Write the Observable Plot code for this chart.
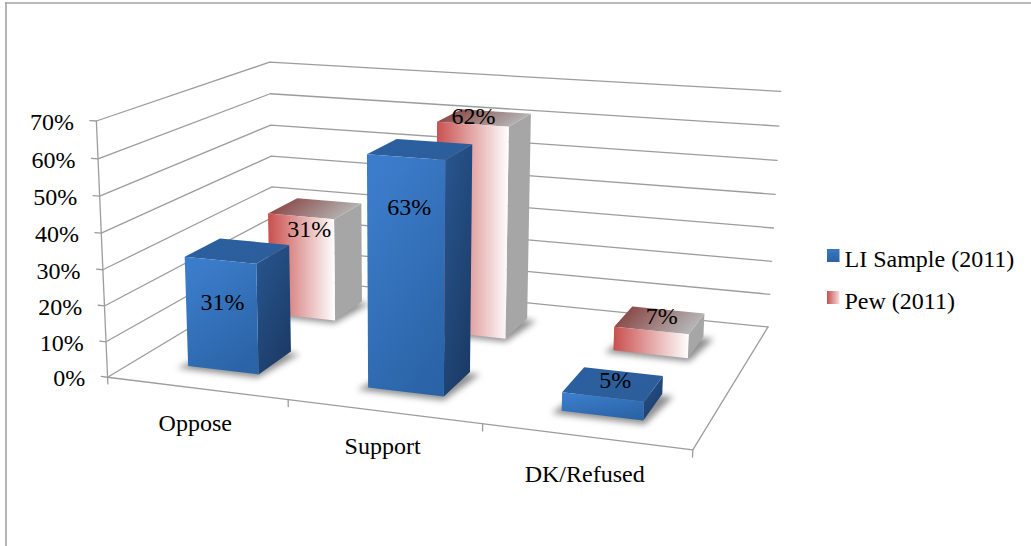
<!DOCTYPE html>
<html>
<head>
<meta charset="utf-8">
<style>html,body{margin:0;padding:0;background:#fff}svg{display:block}</style>
<script src="https://cdn.jsdelivr.net/npm/d3@7"></script>
<script src="https://cdn.jsdelivr.net/npm/@observablehq/plot@0.6"></script>
</head>
<body>
<script>
// Survey results, percent of respondents
const categories = ["Oppose", "Support", "DK/Refused"];
const liSample = [31, 63, 5];
const pew = [31, 62, 7];
const valueTicks = [0, 10, 20, 30, 40, 50, 60, 70];
const seriesNames = ["LI Sample (2011)", "Pew (2011)"];

const width = 1031, height = 546, maxValue = 70;
const font = "Liberation Serif", fontSize = 24, gridColor = "#9c9c9c";

// Camera calibration for the chart box: [across, depth, up] -> screen point
const calibration = [
  [0, 0, 0, 108, 376], [1 / 3, 0, 0, 288, 400], [2 / 3, 0, 0, 482, 424],
  [1, 0, 0, 692, 449], [1, 1, 0, 768, 326], [0, 1, 0, 272, 277],
  [0, 0, 1, 95, 120], [0, 1, 1, 270, 62], [1, 1, 1, 780, 91]
];

// Least-squares fit of a 3x4 perspective matrix (last entry fixed to 1)
function fitCamera(pts) {
  const A = Array.from({length: 11}, () => new Array(12).fill(0));
  const addRow = (r, b) => {
    for (let i = 0; i < 11; i++) {
      for (let j = 0; j < 11; j++) A[i][j] += r[i] * r[j];
      A[i][11] += r[i] * b;
    }
  };
  for (const [u, v, w, sx, sy] of pts) {
    addRow([u, v, w, 1, 0, 0, 0, 0, -sx * u, -sx * v, -sx * w], sx);
    addRow([0, 0, 0, 0, u, v, w, 1, -sy * u, -sy * v, -sy * w], sy);
  }
  for (let c = 0; c < 11; c++) {
    let p = c;
    for (let r = c + 1; r < 11; r++) if (Math.abs(A[r][c]) > Math.abs(A[p][c])) p = r;
    [A[c], A[p]] = [A[p], A[c]];
    for (let r = 0; r < 11; r++) {
      if (r === c) continue;
      const f = A[r][c] / A[c][c];
      for (let k = c; k < 12; k++) A[r][k] -= f * A[c][k];
    }
  }
  return A.map((row, i) => row[11] / row[i]);
}
const m = fitCamera(calibration);
function project(u, v, w) {
  const d = m[8] * u + m[9] * v + m[10] * w + 1;
  return {
    x: (m[0] * u + m[1] * v + m[2] * w + m[3]) / d,
    y: (m[4] * u + m[5] * v + m[6] * w + m[7]) / d
  };
}
const up = (value) => value / maxValue;

// Bar footprint: gap width and gap depth of 150% of a bar
const barHalfWidth = (1 / 3) / 2.5 / 2;
const depthSlots = [{v0: 0.15, v1: 0.35}, {v0: 0.65, v1: 0.85}];

const looks = {
  li: {front: "url(#liFront)", side: "url(#liSide)", top: "url(#liTop)"},
  pew: {front: "url(#pewFront)", side: "#a6a6a6", top: "url(#pewTop)"}
};

// Label nudges away from the centre of each bar's top, by series and category
const labelNudge = {
  li: [[-15, 52], [-11, 58], [2, -4]],
  pew: [[-6, 21], [-11, -1], [2, -4]]
};
const categoryDrop = [0, 0, 3];

const polygon = (corners, options) =>
  Plot.line(corners.map(([u, v, w]) => project(u, v, w)), {x: "x", y: "y", stroke: "none", ...options});

function barMarks(values, slot, look) {
  return values.flatMap((value, i) => {
    const c = (i + 0.5) / categories.length;
    const u0 = c - barHalfWidth, u1 = c + barHalfWidth;
    const {v0, v1} = slot;
    const h = up(value);
    return [
      // Soft contact shadow on the floor
      polygon([[u0 - 0.012, v0 - 0.025, 0], [u1 + 0.006, v0 - 0.025, 0], [u1 + 0.02, v1 - 0.01, 0], [u0 + 0.01, v1 - 0.01, 0]],
        {fill: "#444", fillOpacity: 0.6, imageFilter: "blur(3px)"}),
      polygon([[u1, v0, 0], [u1, v1, 0], [u1, v1, h], [u1, v0, h]], {fill: look.side}),
      polygon([[u0, v0, h], [u1, v0, h], [u1, v1, h], [u0, v1, h]], {fill: look.top}),
      polygon([[u0, v0, 0], [u1, v0, 0], [u1, v0, h], [u0, v0, h]], {fill: look.front})
    ];
  });
}

function barLabels(values, slot, nudge) {
  return values.map((value, i) => {
    const p = project((i + 0.5) / categories.length, (slot.v0 + slot.v1) / 2, up(value));
    return {x: p.x + nudge[i][0], y: p.y + nudge[i][1], text: `${value}%`};
  });
}

// Gridlines run along the left wall, then along the back wall
const gridRows = valueTicks.flatMap((t) =>
  [[-0.012, 0], [0, 0], [0, 1], [1, 1]].map(([u, v]) => ({t, ...project(u, v, up(t))}))
);
const floorEdge = [[0, 0], [1, 0], [1, 1]].map(([u, v]) => project(u, v, 0));
const wallAxis = [0, 1].map((w) => project(0, 0, w));
const categoryTicks = d3.range(0, categories.length + 1).flatMap((i) =>
  [0, -0.027].map((w) => ({i, ...project(i / categories.length, 0, w)}))
);
const valueLabels = valueTicks.map((t) => ({...project(-0.012, 0, up(t)), text: `${t}%`}));
const categoryLabels = categories.map((name, i) => {
  const p = project((i + 0.5) / categories.length, 0, 0);
  return {x: p.x - 1, y: p.y + categoryDrop[i], text: name};
});

const textStyle = {x: "x", y: "y", text: "text", fontFamily: font, fontSize, fill: "#000"};

const legendRows = [
  {name: seriesNames[0], y1: 249, y2: 262, cy: 258.5, fill: "url(#liKey)"},
  {name: seriesNames[1], y1: 291, y2: 304, cy: 301, fill: "url(#pewKey)"}
];

const chart = Plot.plot({
  width, height,
  margin: 0,
  x: {domain: [0, width], range: [0, width], axis: null},
  y: {domain: [0, height], range: [0, height], axis: null},
  style: {background: "#fff", fontFamily: font},
  marks: [
    // Outer chart border: only the top and left sides show
    Plot.ruleY([2.5], {x1: 5, x2: width, stroke: "#a3a3a3", strokeWidth: 1.6}),
    Plot.ruleX([5.5], {y1: 2, y2: height, stroke: "#a3a3a3", strokeWidth: 1.6}),

    Plot.line(gridRows, {x: "x", y: "y", z: "t", stroke: gridColor, strokeWidth: 1.3, strokeLinejoin: "miter"}),
    Plot.line(floorEdge, {x: "x", y: "y", stroke: gridColor, strokeWidth: 1.3, strokeLinejoin: "miter"}),
    Plot.line(wallAxis, {x: "x", y: "y", stroke: gridColor, strokeWidth: 1.3}),
    Plot.line(categoryTicks, {x: "x", y: "y", z: "i", stroke: gridColor, strokeWidth: 1.3}),

    // Painter's order: back row of bars first
    ...barMarks(pew, depthSlots[1], looks.pew),
    ...barMarks(liSample, depthSlots[0], looks.li),

    Plot.text(valueLabels, {...textStyle, textAnchor: "end", dx: -16, dy: 2}),
    Plot.text(categoryLabels, {...textStyle, dy: 35}),
    Plot.text(barLabels(pew, depthSlots[1], labelNudge.pew), textStyle),
    Plot.text(barLabels(liSample, depthSlots[0], labelNudge.li), textStyle),

    Plot.rect(legendRows, {x1: 827, x2: 839.5, y1: "y1", y2: "y2", fill: (d) => d.fill}),
    Plot.text(legendRows, {x: 844, y: "cy", text: "name", textAnchor: "start", fontFamily: font, fontSize, fill: "#000"})
  ]
});

// Shared gradients for the bar faces and legend keys
const gradients = [
  ["liFront", 0.25, 0, 0.75, 1, [[0, "#3c7dcb"], [1, "#2a63a6"]]],
  ["liSide", 0, 0, 0.6, 1, [[0, "#285791"], [1, "#1c3c68"]]],
  ["liTop", 0, 0, 1, 1, [[0, "#2b5f9f"], [1, "#2d5e9b"]]],
  ["pewFront", 0, 0, 1, 0, [[0, "#c84f4e"], [1, "#ffffff"]]],
  ["pewTop", 0, 0, 1, 0.3, [[0, "#823432"], [1, "#b4b4b4"]]],
  ["liKey", 0, 0, 0, 1, [[0, "#3b78c2"], [1, "#2b62a4"]]],
  ["pewKey", 0, 0, 1, 0, [[0, "#c64f4e"], [1, "#f6dddd"]]]
];
const defs = d3.select(chart).insert("defs", ":first-child");
for (const [id, x1, y1, x2, y2, stops] of gradients) {
  const g = defs.append("linearGradient").attr("id", id)
    .attr("x1", x1).attr("y1", y1).attr("x2", x2).attr("y2", y2);
  for (const [offset, color] of stops) g.append("stop").attr("offset", offset).attr("stop-color", color);
}
document.body.append(chart);
</script>
</body>
</html>
